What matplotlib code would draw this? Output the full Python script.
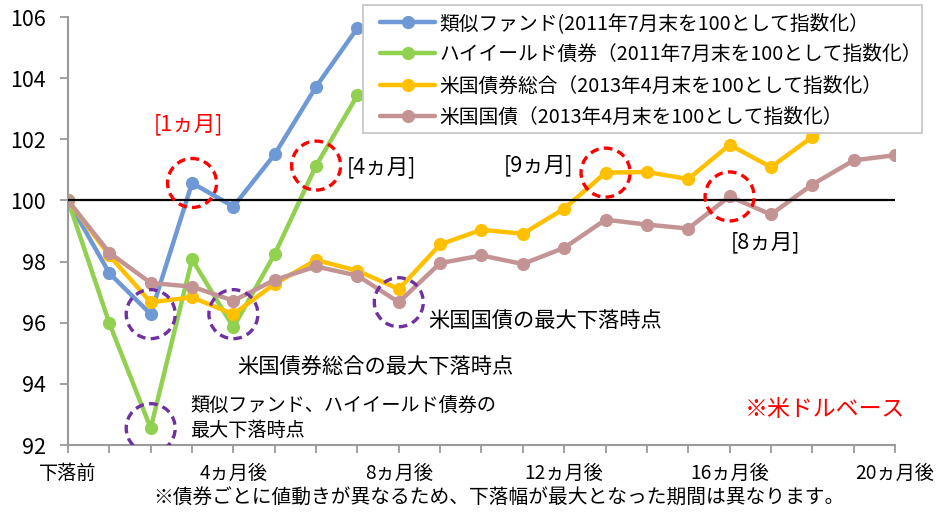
import matplotlib
matplotlib.use("Agg")
import matplotlib.pyplot as plt
from matplotlib.patches import Ellipse, Rectangle

plt.rcParams['font.family'] = ['Noto Sans CJK JP', 'DejaVu Sans']

# data (index = months after the start of the fall)
fund = [100, 97.62, 96.28, 100.57, 99.8, 101.51, 103.72, 105.64]
high_yield = [100, 95.98, 92.55, 98.07, 95.85, 98.25, 101.14, 103.44]
us_agg = [100, 98.2, 96.67, 96.83, 96.28, 97.27, 98.05, 97.7, 97.1, 98.56, 99.04,
          98.91, 99.73, 100.91, 100.93, 100.7, 101.82, 101.09, 102.08, 103.0]
us_tsy = [100, 98.29, 97.3, 97.18, 96.72, 97.4, 97.84, 97.54, 96.67, 97.95, 98.2,
          97.92, 98.45, 99.37, 99.21, 99.08, 100.13, 99.54, 100.52, 101.31, 101.48]

labels = ["類似ファンド(2011年7月末を100として指数化）",
          "ハイイールド債券（2011年7月末を100として指数化）",
          "米国債券総合（2013年4月末を100として指数化）",
          "米国国債（2013年4月末を100として指数化）"]
colors = ["#6F99D5", "#92D050", "#FFC000", "#C49494"]

xtick_labels = {0: "下落前", 4: "4ヵ月後", 8: "8ヵ月後", 12: "12ヵ月後", 16: "16ヵ月後", 20: "20ヵ月後"}

W, H = 953, 518
fig = plt.figure(figsize=(W / 100, H / 100), dpi=100)
ax_l, ax_r, ax_t, ax_b = 68, 895, 17, 445
ax = fig.add_axes([ax_l / W, 1 - ax_b / H, (ax_r - ax_l) / W, (ax_b - ax_t) / H])

series = [fund, high_yield, us_agg, us_tsy]
for s, c, lab in zip(series, colors, labels):
    ax.plot(range(len(s)), s, color=c, lw=3.2, marker="o", markersize=8.5, label=lab,
            solid_capstyle="round")

ax.axhline(100, color="black", lw=1.6, zorder=4)

ax.set_xlim(0, 20)
ax.set_ylim(92, 106)
ax.set_xticks(range(21))
ax.set_xticklabels([xtick_labels.get(i, "") for i in range(21)], fontsize=13.8)
ax.set_yticks(range(92, 107, 2))
ax.tick_params(axis="y", labelsize=15.5, length=6, width=1.3, color="#9a9a9a", pad=10)
ax.tick_params(axis="x", length=6, width=1.3, color="#9a9a9a", pad=7)
for sp in ["top", "right"]:
    ax.spines[sp].set_visible(False)
for sp in ["left", "bottom"]:
    ax.spines[sp].set_color("#9a9a9a")
    ax.spines[sp].set_linewidth(1.5)

# dashed circles around the key points
px_x = (ax_r - ax_l) / 20
px_y = (ax_b - ax_t) / 14
d = 49
red_pts = [(3, fund[3]), (6, high_yield[6]), (13, us_agg[13]), (16, us_tsy[16])]
purple_pts = [(2, fund[2]), (2, high_yield[2]), (4, us_agg[4]), (8, us_tsy[8])]
for pts, c in [(red_pts, "#FF0000"), (purple_pts, "#7030A0")]:
    for x, y in pts:
        e = Ellipse((x, y), d / px_x, d / px_y, fill=False, edgecolor=c, lw=2.4,
                    linestyle=(0, (2.6, 1.6)), zorder=6)
        ax.add_patch(e)

# legend box drawn by hand so the padding can differ per side
box = Rectangle((363 / W, 1 - 133 / H), (922 - 363) / W, (133 - 5) / H,
                transform=fig.transFigure, facecolor="white", edgecolor="#c8c8c8",
                lw=1.3, zorder=7, clip_on=False)
ax.add_patch(box)
leg = ax.legend(loc="upper left", bbox_to_anchor=(380 / W, 1 - 13 / H),
                bbox_transform=fig.transFigure, fontsize=14.2, frameon=False,
                handlelength=2.8, borderpad=0, labelspacing=0.52, handletextpad=0.2,
                borderaxespad=0)
leg.set_zorder(8)


def ftext(px, py, s, **kw):
    fig.text(px / W, 1 - py / H, s, **kw)


ftext(188, 124, "[1ヵ月]", color="#FF0000", fontsize=15.5, ha="center", va="center")
ftext(381, 167, "[4ヵ月]", color="black", fontsize=15.5, ha="center", va="center")
ftext(539, 165, "[9ヵ月]", color="black", fontsize=15.5, ha="center", va="center")
ftext(766, 242, "[8ヵ月]", color="black", fontsize=15.5, ha="center", va="center")
ftext(428, 322, "米国国債の最大下落時点", fontsize=15.3, va="center")
ftext(237, 367, "米国債券総合の最大下落時点", fontsize=15.3, va="center")
ftext(190, 405, "類似ファンド、ハイイールド債券の", fontsize=13.8, va="center")
ftext(190, 430, "最大下落時点", fontsize=13.8, va="center")
ftext(825, 410, "※米ドルベース", color="#FF0000", fontsize=16.5, ha="center", va="center")
ftext(499, 497, "※債券ごとに値動きが異なるため、下落幅が最大となった期間は異なります。",
      fontsize=14.2, ha="center", va="center")

fig.savefig("out.png", dpi=100)
